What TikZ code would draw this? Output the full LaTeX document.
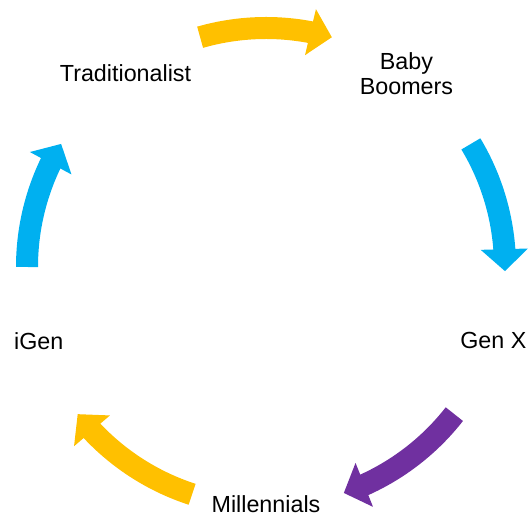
\documentclass[tikz,border=0pt]{standalone}
\usepackage{fontspec}
\setmainfont{Liberation Sans}
\usetikzlibrary{arrows.meta,bending}
\definecolor{cycgold}{HTML}{FFC000}
\definecolor{cycblue}{HTML}{00B0F0}
\definecolor{cycpurple}{HTML}{7030A0}

\begin{document}
\begin{tikzpicture}[x=1pt,y=1pt,
    gen/.style={font=\fontsize{23.3}{24.5}\selectfont,align=center,inner sep=0pt},
    cycarrow/.style={line width=22pt,-{Triangle[width=46pt,length=22pt]}}]
  \useasboundingbox (0,0) rectangle (528,516);
  \coordinate (hub) at (266,249);
  % generations
  \path (hub) ++(126:239) node[gen] (trad) {Traditionalist};
  \path (hub) ++(54:239) node[gen] (boom) {Baby\\Boomers};
  \path (hub) ++(-18:239) node[gen] (genx) {Gen X};
  \path (hub) ++(-90:237) node[gen] (mill) {Millennials};
  \path (hub) ++(-162:239) node[gen] (igen) {iGen};
  % cycle arrows
  \draw[cycarrow,cycgold] (hub) ++(106:239) arc[start angle=106,end angle=74,radius=239];
  \draw[cycarrow,cycblue] (hub) ++(31:239) arc[start angle=31,end angle=-1,radius=239];
  \draw[cycarrow,cycpurple] (hub) ++(-38:239) arc[start angle=-38,end angle=-71,radius=239];
  \draw[cycarrow,cycgold] (hub) ++(-108:239) arc[start angle=-108,end angle=-142,radius=239];
  \draw[cycarrow,cycblue] (hub) ++(180:239) arc[start angle=180,end angle=149,radius=239];
\end{tikzpicture}
\end{document}
